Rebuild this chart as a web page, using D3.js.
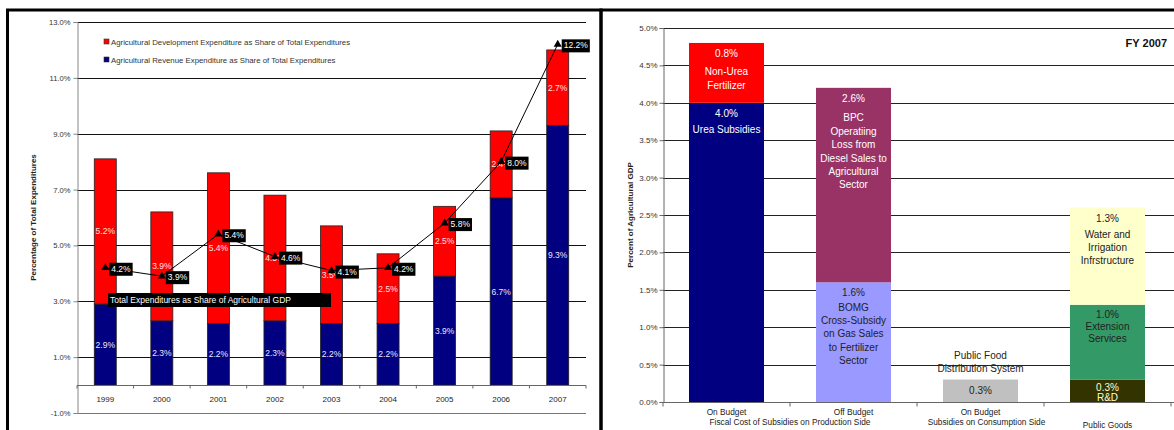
<!DOCTYPE html>
<html>
<head>
<meta charset="utf-8">
<script src="https://cdn.jsdelivr.net/npm/d3@7"></script>
<style>
  body { margin: 0; background: #fff; }
  svg { display: block; font-family: Arial, "Liberation Sans", sans-serif; }
</style>
</head>
<body>
<svg id="chart" width="1174" height="430"></svg>
<script>
(function() {
  /* Left chart data: shares of total expenditures, plus total as share of agri GDP */
  var years = ["1999", "2000", "2001", "2002", "2003", "2004", "2005", "2006", "2007"];
  var revenueShare = [2.9, 2.3, 2.2, 2.3, 2.2, 2.2, 3.9, 6.7, 9.3];
  var developmentShare = [5.2, 3.9, 5.4, 4.5, 3.5, 2.5, 2.5, 2.4, 2.7];
  var totalShareOfGdp = [4.2, 3.9, 5.4, 4.6, 4.1, 4.2, 5.8, 8.0, 12.2];
  var leftTicks = [-1, 1, 3, 5, 7, 9, 11, 13];

  /* Right chart data: FY 2007 subsidies, percent of agricultural GDP */
  var subsidyBars = ["prodOn", "prodOff", "consOn", "publicGoods"];
  var barLabels = ["On Budget", "Off Budget", "On Budget", ""];
  var segmentValues = [[4.0, 0.8], [1.6, 2.6], [0.3], [0.3, 1.0, 1.3]];
  var segmentText = [
    [["Urea Subsidies"], ["Non-Urea", "Fertilizer"]],
    [["BOMG", "Cross-Subsidy", "on Gas Sales", "to Fertilizer", "Sector"],
     ["BPC", "Operatiing", "Loss from", "Diesel Sales to", "Agricultural", "Sector"]],
    [[]],
    [["R&D"], ["Extension", "Services"], ["Water and", "Irrigation", "Infrstructure"]]
  ];
  var rightTicks = [0, 0.5, 1, 1.5, 2, 2.5, 3, 3.5, 4, 4.5, 5];

  var svg = d3.select("#chart");
  var fmt = function(v) { return v.toFixed(1) + "%"; };

  /* ---------- left panel ---------- */
  var yL = d3.scaleLinear().domain([-1, 13]).range([413, 22]);
  var xL = d3.scaleBand().domain(years).range([77, 586]);
  var barW = 22;
  var bx = function(d) { return xL(d) + (xL.bandwidth() - barW) / 2; };
  var cx = function(d) { return xL(d) + xL.bandwidth() / 2; };

  var left = svg.append("g");

  left.append("g").selectAll("line")
      .data(leftTicks)
      .enter().append("line")
      .attr("x1", 77).attr("x2", 586)
      .attr("y1", function(d) { return Math.round(yL(d)) + 0.5; })
      .attr("y2", function(d) { return Math.round(yL(d)) + 0.5; })
      .attr("stroke", function(d) { return d === -1 ? "#777" : "#111"; })
      .attr("stroke-width", 1);

  var yAxisL = left.append("g")
      .attr("transform", "translate(77.5,0)")
      .call(d3.axisLeft(yL).tickValues(leftTicks).tickFormat(fmt).tickSize(4).tickPadding(3));
  yAxisL.select(".domain").attr("stroke", "#888");
  yAxisL.selectAll(".tick line").attr("stroke", "#888");
  yAxisL.selectAll("text").attr("font-size", 7.6).attr("fill", "#333")
      .attr("font-family", "Arial, 'Liberation Sans', sans-serif");

  var rows = years.map(function(y, i) {
    return { year: y, rev: revenueShare[i], dev: developmentShare[i], total: totalShareOfGdp[i] };
  });

  left.append("g").selectAll("rect")
      .data(rows).enter().append("rect")
      .attr("x", function(d) { return bx(d.year); })
      .attr("width", barW)
      .attr("y", function(d) { return yL(d.rev); })
      .attr("height", function(d) { return yL(0) - yL(d.rev); })
      .attr("fill", "#000080").attr("stroke", "#222").attr("stroke-width", 0.8);

  left.append("g").selectAll("rect")
      .data(rows).enter().append("rect")
      .attr("x", function(d) { return bx(d.year); })
      .attr("width", barW)
      .attr("y", function(d) { return yL(d.rev + d.dev); })
      .attr("height", function(d) { return yL(d.rev) - yL(d.rev + d.dev); })
      .attr("fill", "#ff0000").attr("stroke", "#222").attr("stroke-width", 0.8);

  // x axis along the zero line
  var xAxisL = left.append("g")
      .attr("transform", "translate(0," + (Math.round(yL(0)) + 0.5) + ")");
  xAxisL.append("line").attr("x1", 77).attr("x2", 586).attr("stroke", "#666");
  xAxisL.selectAll(".tk")
      .data(years.concat(["end"])).enter().append("line")
      .attr("x1", function(d, i) { return 77 + i * xL.step(); })
      .attr("x2", function(d, i) { return 77 + i * xL.step(); })
      .attr("y1", 0).attr("y2", 3).attr("stroke", "#666");
  xAxisL.selectAll("text")
      .data(years).enter().append("text")
      .attr("x", cx).attr("y", 16)
      .attr("text-anchor", "middle").attr("font-size", 8).attr("fill", "#222")
      .text(function(d) { return d; });

  // segment value labels
  left.append("g").selectAll("text")
      .data(rows).enter().append("text")
      .attr("x", function(d) { return cx(d.year); })
      .attr("y", function(d) { return yL(d.rev / 2) + 3; })
      .attr("text-anchor", "middle").attr("font-size", 8.5).attr("fill", "#e8e8ff")
      .text(function(d) { return fmt(d.rev); });
  left.append("g").selectAll("text")
      .data(rows).enter().append("text")
      .attr("x", function(d) { return cx(d.year); })
      .attr("y", function(d) { return yL(d.rev + d.dev / 2) + 3; })
      .attr("text-anchor", "middle").attr("font-size", 8.5).attr("fill", "#ffe0e0")
      .text(function(d) { return fmt(d.dev); });

  // total expenditures line
  var line = d3.line()
      .x(function(d) { return cx(d.year); })
      .y(function(d) { return yL(d.total); });
  left.append("path").datum(rows)
      .attr("d", line).attr("fill", "none").attr("stroke", "#000").attr("stroke-width", 1);
  left.append("g").selectAll("path")
      .data(rows).enter().append("path")
      .attr("d", d3.symbol().type(d3.symbolTriangle).size(28))
      .attr("transform", function(d) { return "translate(" + cx(d.year) + "," + yL(d.total) + ")"; })
      .attr("fill", "#000");

  var tags = left.append("g").selectAll("g")
      .data(rows).enter().append("g")
      .attr("transform", function(d) { return "translate(" + (cx(d.year) + 4) + "," + (yL(d.total) + 1) + ")"; });
  tags.append("rect").attr("fill", "#000").attr("y", -6).attr("height", 13);
  tags.append("text")
      .attr("x", 2).attr("y", 3)
      .attr("font-size", 8.5).attr("fill", "#fff")
      .text(function(d) { return fmt(d.total); });
  tags.each(function() {
    var g = d3.select(this);
    var w = g.select("text").node().getComputedTextLength();
    g.select("rect").attr("width", w + 4);
  });

  // line legend box
  left.append("rect").attr("x", 108).attr("y", 293).attr("width", 223).attr("height", 14).attr("fill", "#000");
  left.append("text").attr("x", 110).attr("y", 303)
      .attr("font-size", 8.5).attr("fill", "#fff")
      .text("Total Expenditures as Share of Agricultural GDP");

  // bar legend
  var legendItems = [
    { label: "Agricultural Development Expenditure as Share of Total Expenditures", color: "#ff0000" },
    { label: "Agricultural Revenue Expenditure as Share of Total Expenditures", color: "#000080" }
  ];
  var lg = left.append("g").selectAll("g")
      .data(legendItems).enter().append("g")
      .attr("transform", function(d, i) { return "translate(104," + (39 + i * 18) + ")"; });
  lg.append("rect").attr("width", 5).attr("height", 5)
      .attr("fill", function(d) { return d.color; }).attr("stroke", "#333").attr("stroke-width", 0.6);
  lg.append("text").attr("x", 7).attr("y", 5.5)
      .attr("font-size", 7.8).attr("fill", "#333")
      .text(function(d) { return d.label; });

  left.append("text")
      .attr("transform", "translate(36," + yL(6) + ") rotate(-90)")
      .attr("text-anchor", "middle").attr("font-size", 8).attr("font-weight", "bold").attr("fill", "#222")
      .text("Percentage of Total Expenditures");

  /* ---------- right panel ---------- */
  var yR = d3.scaleLinear().domain([0, 5]).range([402, 28]);
  var xR = d3.scaleBand().domain(subsidyBars).range([663, 1171]);
  var colW = 75;
  var rx = function(d) { return xR(d) + (xR.bandwidth() - colW) / 2; };
  var rcx = function(d) { return xR(d) + xR.bandwidth() / 2; };

  var right = svg.append("g");

  right.append("g").selectAll("line")
      .data(rightTicks.slice(1)).enter().append("line")
      .attr("x1", 663).attr("x2", 1174)
      .attr("y1", function(d) { return Math.round(yR(d)) + 0.5; })
      .attr("y2", function(d) { return Math.round(yR(d)) + 0.5; })
      .attr("stroke", "#222").attr("stroke-width", 1);

  var yAxisR = right.append("g")
      .attr("transform", "translate(663.5,0)")
      .call(d3.axisLeft(yR).tickValues(rightTicks).tickFormat(fmt).tickSize(4).tickPadding(2));
  yAxisR.select(".domain").attr("stroke", "#666");
  yAxisR.selectAll(".tick line").attr("stroke", "#666");
  yAxisR.selectAll("text").attr("font-size", 8).attr("fill", "#333")
      .attr("font-family", "Arial, 'Liberation Sans', sans-serif");

  var segColors = [["#000080", "#ff0000"], ["#9999ff", "#993366"], ["#c0c0c0"], ["#333300", "#339966", "#ffffcc"]];
  var segInk = [["#fff", "#fff"], ["#222", "#fff"], ["#222"], ["#ffffcc", "#222", "#222"]];
  // offset of the value line below the segment top, gap to the first
  // description line, then line spacing
  var segTop = [[11, 11], [10, 11], [11], [8, 10, 11]];
  var segGap = [[16, 18], [15, 19], [0], [10, 12, 16]];
  var segStep = [[14, 14], [13.3, 13.4], [13], [10, 12, 13]];

  var segments = [];
  subsidyBars.forEach(function(b, i) {
    var base = 0;
    segmentValues[i].forEach(function(v, j) {
      segments.push({ bar: b, i: i, j: j, y0: base, y1: base + v, value: v, lines: segmentText[i][j] });
      base += v;
    });
  });

  right.append("g").selectAll("rect")
      .data(segments).enter().append("rect")
      .attr("x", function(d) { return rx(d.bar); })
      .attr("width", colW)
      .attr("y", function(d) { return yR(d.y1); })
      .attr("height", function(d) { return yR(d.y0) - yR(d.y1); })
      .attr("fill", function(d) { return segColors[d.i][d.j]; });

  var segLabels = right.append("g").selectAll("g")
      .data(segments).enter().append("g")
      .attr("transform", function(d) { return "translate(" + rcx(d.bar) + "," + (yR(d.y1) + segTop[d.i][d.j]) + ")"; })
      .attr("text-anchor", "middle").attr("font-size", 10)
      .attr("fill", function(d) { return segInk[d.i][d.j]; });
  segLabels.append("text").attr("y", 3.5).text(function(d) { return fmt(d.value); });
  segLabels.each(function(d) {
    var g = d3.select(this);
    d.lines.forEach(function(t, k) {
      g.append("text")
        .attr("y", 3.5 + segGap[d.i][d.j] + k * segStep[d.i][d.j])
        .text(t);
    });
  });

  // caption above the consumption-side bar
  var pfTop = yR(d3.sum(segmentValues[2]));
  right.append("text").attr("x", rcx("consOn")).attr("y", pfTop - 21)
      .attr("text-anchor", "middle").attr("font-size", 10).attr("fill", "#222").text("Public Food");
  right.append("text").attr("x", rcx("consOn")).attr("y", pfTop - 8)
      .attr("text-anchor", "middle").attr("font-size", 10).attr("fill", "#222").text("Distribution System");

  // x axis
  var xAxisR = right.append("g").attr("transform", "translate(0," + (Math.round(yR(0)) + 0.5) + ")");
  xAxisR.append("line").attr("x1", 663).attr("x2", 1174).attr("stroke", "#666");
  xAxisR.selectAll(".tk")
      .data(subsidyBars.concat(["end"])).enter().append("line")
      .attr("x1", function(d, i) { return 663 + i * xR.step(); })
      .attr("x2", function(d, i) { return 663 + i * xR.step(); })
      .attr("y1", 0).attr("y2", 4).attr("stroke", "#666");
  xAxisR.selectAll(".bl")
      .data(subsidyBars).enter().append("text")
      .attr("x", rcx).attr("y", 12)
      .attr("text-anchor", "middle").attr("font-size", 8.3).attr("fill", "#222")
      .text(function(d, i) { return barLabels[i]; });

  var groups = [
    { label: "Fiscal Cost of Subsidies on Production Side", x: xR("prodOff"), dy: 22 },
    { label: "Subsidies on Consumption Side", x: rcx("consOn") + 6, dy: 22 },
    { label: "Public Goods", x: rcx("publicGoods"), dy: 25 }
  ];
  xAxisR.selectAll(".gl")
      .data(groups).enter().append("text")
      .attr("x", function(d) { return d.x; }).attr("y", function(d) { return d.dy; })
      .attr("text-anchor", "middle").attr("font-size", 8.3).attr("fill", "#222")
      .text(function(d) { return d.label; });

  right.append("text")
      .attr("transform", "translate(633," + yR(2.5) + ") rotate(-90)")
      .attr("text-anchor", "middle").attr("font-size", 8).attr("font-weight", "bold").attr("fill", "#222")
      .text("Percent of Agricultural GDP");

  right.append("text").attr("x", 1167).attr("y", 47)
      .attr("text-anchor", "end").attr("font-size", 11).attr("font-weight", "bold").attr("fill", "#111")
      .text("FY 2007");

  /* panel frames */
  svg.append("rect").attr("x", 7.5).attr("y", 10).attr("width", 593.5).attr("height", 440)
      .attr("fill", "none").attr("stroke", "#000").attr("stroke-width", 3);
  svg.append("rect").attr("x", 601).attr("y", 10).attr("width", 600).attr("height", 440)
      .attr("fill", "none").attr("stroke", "#000").attr("stroke-width", 3);
})();
</script>
</body>
</html>
